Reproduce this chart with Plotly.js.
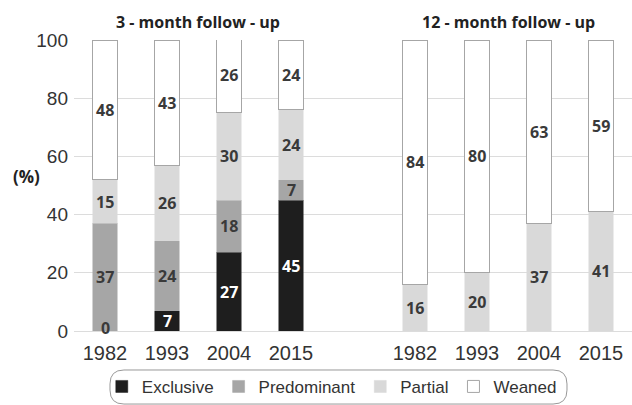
<!DOCTYPE html>
<html>
<head>
<meta charset="utf-8">
<script src="https://cdn.plot.ly/plotly-3.0.1.min.js"></script>
<style>html,body{margin:0;padding:0;background:#fff;}#chart{width:632px;height:405px;}</style>
</head>
<body>
<div id="chart"></div>
<script>
// ---- data ----
const years = ['1982', '1993', '2004', '2015'];
const groupTitles = ['3 - month follow - up', '12 - month follow - up'];
const seriesNames = ['Exclusive', 'Predominant', 'Partial', 'Weaned'];
// 3-month follow-up (%)
const exclusive3 = [0, 7, 27, 45];
const predominant3 = [37, 24, 18, 7];
const partial3 = [15, 26, 30, 24];
const weaned3 = [48, 43, 26, 24];
// 12-month follow-up (%)
const exclusive12 = [null, null, null, null];
const predominant12 = [null, null, null, null];
const partial12 = [16, 20, 37, 41];
const weaned12 = [84, 80, 63, 59];
const yTicks = [0, 20, 40, 60, 80, 100];

// ---- styles ----
const colors = ['#1e1e1e', '#a6a6a6', '#d9d9d9', '#ffffff'];
const lineColors = ['#1e1e1e', '#a6a6a6', '#d9d9d9', '#a6a6a6'];
const labelColors = ['#ffffff', '#3a3a3a', '#3a3a3a', '#3a3a3a'];
const labelFont = 'Open Sans, DejaVu Sans, sans-serif';
const tickFont = 'Liberation Sans, Arial, sans-serif';

const groupGap = 5; // slot offset of second group (one empty slot between)
const xPos = [];
const xText = [];
[0, 1].forEach(g => years.forEach((y, i) => { xPos.push(g * groupGap + i); xText.push(y); }));

const seriesData = [
  exclusive3.concat(exclusive12),
  predominant3.concat(predominant12),
  partial3.concat(partial12),
  weaned3.concat(weaned12)
];

const traces = seriesNames.map((name, s) => ({
  type: 'bar',
  name: name,
  x: xPos,
  y: seriesData[s],
  width: 0.4,
  marker: {color: colors[s], line: {color: lineColors[s], width: s === 3 ? 1 : 0.5}},
  hoverinfo: 'skip'
}));

const annotations = [];
xPos.forEach((x, k) => {
  let base = 0;
  seriesData.forEach((arr, s) => {
    const v = arr[k];
    if (v === null || v === undefined) return;
    annotations.push({
      x: x, y: v === 0 ? base : base + v / 2, xref: 'x', yref: 'y',
      xanchor: 'center', yanchor: 'middle',
      text: String(v), showarrow: false,
      yshift: v === 0 ? 3 : 0,
      font: {family: labelFont, size: 16, color: v === 0 ? '#3a3a3a' : labelColors[s], weight: 700}
    });
    base += v;
  });
});
groupTitles.forEach((t, g) => {
  annotations.push({
    x: g * groupGap + (years.length - 1) / 2, y: 1.062, xref: 'x', yref: 'paper',
    xanchor: 'center', yanchor: 'middle',
    text: '<b>' + t + '</b>', showarrow: false,
    font: {family: labelFont, size: 16, color: '#222'}
  });
});
annotations.push({
  x: -0.086, y: 0.53, xref: 'paper', yref: 'paper', text: '<b>(%)</b>', showarrow: false,
  xanchor: 'center', yanchor: 'middle',
  font: {family: labelFont, size: 17, color: '#222'}
});

// rounded legend frame (paper coordinates)
const bx0 = 0.0645, bx1 = 0.8835, by0 = -0.251, by1 = -0.134, rx = 0.025, ry = 0.048;
const framePath = `M${bx0 + rx},${by1} L${bx1 - rx},${by1} Q${bx1},${by1} ${bx1},${by1 - ry} ` +
  `L${bx1},${by0 + ry} Q${bx1},${by0} ${bx1 - rx},${by0} L${bx0 + rx},${by0} ` +
  `Q${bx0},${by0} ${bx0},${by0 + ry} L${bx0},${by1 - ry} Q${bx0},${by1} ${bx0 + rx},${by1} Z`;

const layout = {
  width: 632, height: 405,
  margin: {l: 74, r: 0, t: 40, b: 74},
  paper_bgcolor: '#fff', plot_bgcolor: '#fff',
  barmode: 'stack',
  showlegend: true,
  legend: {
    orientation: 'h', x: 0.462, xanchor: 'center', y: -0.192, yanchor: 'middle',
    font: {family: tickFont, size: 17, color: '#333'},
    bgcolor: 'rgba(0,0,0,0)', borderwidth: 0, traceorder: 'normal'
  },
  xaxis: {
    range: [-0.5, 8.5], tickvals: xPos, ticktext: xText,
    showgrid: false, zeroline: false, showline: false, ticks: '',
    ticklabelstandoff: 8,
    tickfont: {family: tickFont, size: 20, color: '#333'}
  },
  yaxis: {
    range: [0, 100], tickvals: yTicks, showgrid: true, gridcolor: '#dcdcdc',
    zeroline: true, zerolinecolor: '#dcdcdc', showline: false, ticks: '',
    ticklabelstandoff: 5,
    tickfont: {family: tickFont, size: 19, color: '#333'}
  },
  annotations: annotations,
  shapes: [{type: 'path', xref: 'paper', yref: 'paper', path: framePath,
    line: {color: '#999', width: 1}, fillcolor: 'rgba(0,0,0,0)'}]
};

Plotly.newPlot('chart', traces, layout, {displayModeBar: false, staticPlot: true});
</script>
</body>
</html>
